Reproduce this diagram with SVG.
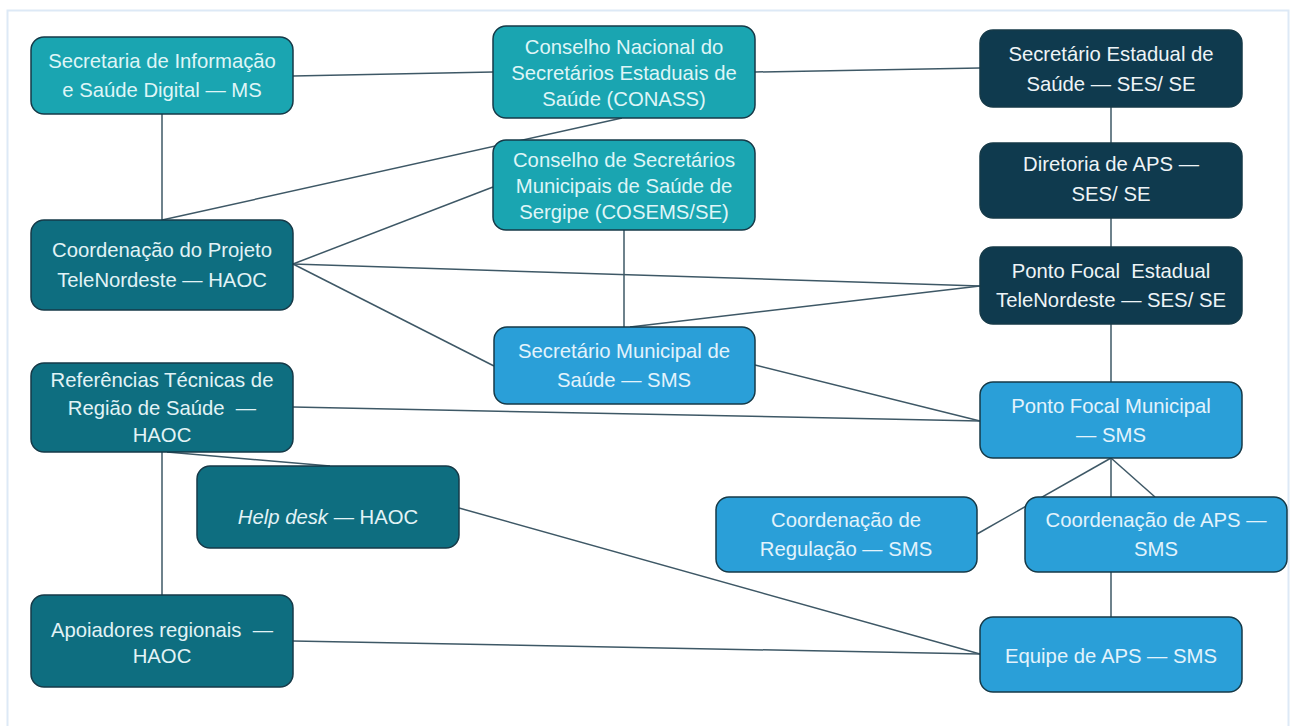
<svg xmlns="http://www.w3.org/2000/svg" width="1295" height="726" viewBox="0 0 1295 726">
<style>
.n rect{stroke:#163a48;stroke-width:1.5}
.lt rect{fill:#1aa5b1}
.dt rect{fill:#0e6e80}
.nv rect{fill:#0f3a4e}
.bl rect{fill:#2a9fd8}
text{font-family:"Liberation Sans",Arial,sans-serif;font-size:20.3px;text-anchor:middle;white-space:pre}
.lt text{fill:#dff5f7}
.dt text{fill:#e2f3f6}
.nv text{fill:#eef4f7}
.bl text{fill:#e3f3fc}
#edges line{stroke:#3e5866;stroke-width:1.5}
</style>
<rect x="7.5" y="10.5" width="1281" height="740" fill="#ffffff" stroke="#dde9f6" stroke-width="2"/>
<g id="edges">
<line x1="293" y1="76" x2="493" y2="72"/>
<line x1="755" y1="72" x2="980" y2="68"/>
<line x1="162" y1="114" x2="162" y2="220"/>
<line x1="622" y1="118" x2="162" y2="220"/>
<line x1="493" y1="187" x2="293" y2="264"/>
<line x1="293" y1="264" x2="980" y2="286"/>
<line x1="293" y1="264" x2="494" y2="366"/>
<line x1="624" y1="230" x2="624" y2="327"/>
<line x1="630" y1="327" x2="980" y2="286"/>
<line x1="755" y1="365" x2="980" y2="421"/>
<line x1="293" y1="407" x2="980" y2="421"/>
<line x1="167" y1="452" x2="330" y2="466"/>
<line x1="162" y1="452" x2="162" y2="595"/>
<line x1="459" y1="508" x2="980" y2="654"/>
<line x1="293" y1="641" x2="980" y2="654"/>
<line x1="1111" y1="107" x2="1111" y2="143"/>
<line x1="1111" y1="218" x2="1111" y2="247"/>
<line x1="1111" y1="324" x2="1111" y2="382"/>
<line x1="1111" y1="458" x2="977" y2="534"/>
<line x1="1111" y1="458" x2="1111" y2="497"/>
<line x1="1111" y1="458" x2="1155" y2="497"/>
<line x1="1111" y1="572" x2="1111" y2="617"/>
</g>
<g id="sec-info" class="n lt"><rect x="31" y="37" width="262" height="77" rx="13"/><text x="162" y="68">Secretaria de Informação</text><text x="162" y="97">e Saúde Digital — MS</text></g>
<g id="conass" class="n lt"><rect x="493" y="26" width="262" height="92" rx="13"/><text x="624" y="54">Conselho Nacional do</text><text x="624" y="80">Secretários Estaduais de</text><text x="624" y="106">Saúde (CONASS)</text></g>
<g id="cosems" class="n lt"><rect x="493" y="140" width="262" height="90" rx="13"/><text x="624" y="167">Conselho de Secretários</text><text x="624" y="193">Municipais de Saúde de</text><text x="624" y="219">Sergipe (COSEMS/SE)</text></g>
<g id="sec-estadual" class="n nv"><rect x="980" y="30" width="262" height="77" rx="13"/><text x="1111" y="61">Secretário Estadual de</text><text x="1111" y="91">Saúde — SES/ SE</text></g>
<g id="diretoria-aps" class="n nv"><rect x="980" y="143" width="262" height="75" rx="13"/><text x="1111" y="171">Diretoria de APS —</text><text x="1111" y="201">SES/ SE</text></g>
<g id="pf-estadual" class="n nv"><rect x="980" y="247" width="262" height="77" rx="13"/><text x="1111" y="278">Ponto Focal  Estadual</text><text x="1111" y="307">TeleNordeste — SES/ SE</text></g>
<g id="pf-municipal" class="n bl"><rect x="980" y="382" width="262" height="76" rx="13"/><text x="1111" y="413">Ponto Focal Municipal</text><text x="1111" y="442">— SMS</text></g>
<g id="coord-projeto" class="n dt"><rect x="31" y="220" width="262" height="90" rx="13"/><text x="162" y="257">Coordenação do Projeto</text><text x="162" y="287">TeleNordeste — HAOC</text></g>
<g id="ref-tecnicas" class="n dt"><rect x="31" y="363" width="262" height="89" rx="13"/><text x="162" y="387">Referências Técnicas de</text><text x="162" y="415">Região de Saúde  —</text><text x="162" y="442">HAOC</text></g>
<g id="help-desk" class="n dt"><rect x="197" y="466" width="262" height="82" rx="13"/><text x="328" y="524"><tspan font-style="italic">Help desk</tspan> — HAOC</text></g>
<g id="apoiadores" class="n dt"><rect x="31" y="595" width="262" height="92" rx="13"/><text x="162" y="637">Apoiadores regionais  —</text><text x="162" y="663">HAOC</text></g>
<g id="sec-municipal" class="n bl"><rect x="494" y="327" width="261" height="77" rx="13"/><text x="624" y="358">Secretário Municipal de</text><text x="624" y="387">Saúde — SMS</text></g>
<g id="coord-regulacao" class="n bl"><rect x="716" y="497" width="261" height="75" rx="13"/><text x="846" y="527">Coordenação de</text><text x="846" y="556">Regulação — SMS</text></g>
<g id="coord-aps" class="n bl"><rect x="1025" y="497" width="262" height="75" rx="13"/><text x="1156" y="527">Coordenação de APS —</text><text x="1156" y="556">SMS</text></g>
<g id="equipe-aps" class="n bl"><rect x="980" y="617" width="262" height="75" rx="13"/><text x="1111" y="663">Equipe de APS — SMS</text></g>
</svg>
